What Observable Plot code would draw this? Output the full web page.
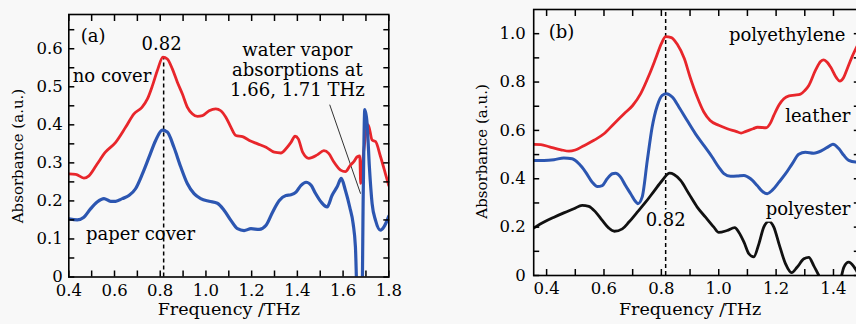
<!DOCTYPE html>
<html><head><meta charset="utf-8">
<script src="https://cdn.jsdelivr.net/npm/d3@7"></script>
<script src="https://cdn.jsdelivr.net/npm/@observablehq/plot@0.6"></script>
<style>
html,body{margin:0;padding:0;background:#f8f8f8;overflow:hidden;}
#wrap{position:relative;width:856px;height:324px;overflow:hidden;background:#f8f8f8;}
#pa,#pb{position:absolute;top:0;height:324px;}
#pa{left:0;width:430px}
#pb{left:440px;width:440px}
svg{max-width:none !important;}
</style></head><body><div id="wrap"><div id="pa"></div><div id="pb"></div></div>
<script>
// ---------- Panel (a) data: [frequency THz, absorbance] ----------
const aNoCover = [[0.4,0.271],[0.43,0.27],[0.466,0.26],[0.488,0.266],[0.524,0.297],[0.56,0.328],[0.605,0.354],[0.649,0.394],[0.685,0.429],[0.72,0.446],[0.744,0.468],[0.766,0.503],[0.787,0.542],[0.812,0.578],[0.831,0.573],[0.853,0.547],[0.875,0.512],[0.897,0.481],[0.919,0.446],[0.94,0.429],[0.963,0.422],[0.985,0.424],[1.014,0.437],[1.043,0.442],[1.065,0.437],[1.087,0.42],[1.109,0.394],[1.131,0.372],[1.16,0.369],[1.19,0.359],[1.226,0.35],[1.263,0.341],[1.299,0.328],[1.328,0.326],[1.35,0.337],[1.372,0.354],[1.39,0.37],[1.404,0.363],[1.423,0.328],[1.45,0.312],[1.487,0.321],[1.516,0.332],[1.537,0.325],[1.559,0.303],[1.589,0.281],[1.61,0.277],[1.632,0.294],[1.647,0.303],[1.662,0.316],[1.673,0.318],[1.677,0.246],[1.69,0.33],[1.71,0.40],[1.727,0.36],[1.742,0.356],[1.764,0.316],[1.785,0.272],[1.8,0.24]];
const aPaperCover = [[0.4,0.153],[0.437,0.15],[0.466,0.157],[0.495,0.179],[0.524,0.197],[0.554,0.206],[0.583,0.199],[0.605,0.199],[0.634,0.206],[0.663,0.214],[0.692,0.232],[0.722,0.271],[0.751,0.315],[0.78,0.359],[0.809,0.386],[0.831,0.381],[0.86,0.341],[0.89,0.289],[0.919,0.245],[0.948,0.219],[0.977,0.206],[1.014,0.199],[1.05,0.194],[1.08,0.175],[1.109,0.149],[1.138,0.127],[1.167,0.122],[1.197,0.127],[1.233,0.125],[1.263,0.136],[1.292,0.171],[1.321,0.201],[1.35,0.214],[1.372,0.216],[1.394,0.223],[1.416,0.241],[1.438,0.249],[1.46,0.241],[1.479,0.22],[1.504,0.197],[1.53,0.184],[1.552,0.215],[1.574,0.237],[1.592,0.259],[1.61,0.228],[1.629,0.184],[1.644,0.14],[1.654,0.079],[1.662,-0.05],[1.683,-0.05],[1.688,0.21],[1.695,0.44],[1.705,0.404],[1.715,0.29],[1.727,0.193],[1.742,0.149],[1.764,0.123],[1.778,0.131],[1.8,0.16]];
const aPeak = [0.815];
const aPeakValue = 0.578;
const aPointer = [[1.542,0.452],[1.676,0.22]];
const aXTicks = [0.4,0.6,0.8,1.0,1.2,1.4,1.6,1.8];
const aXMinor = [0.4,0.5,0.6,0.7,0.8,0.9,1.0,1.1,1.2,1.3,1.4,1.5,1.6,1.7,1.8];
const aYTicks = [0,0.1,0.2,0.3,0.4,0.5,0.6];
const aYMinor = [0,0.05,0.1,0.15,0.2,0.25,0.3,0.35,0.4,0.45,0.5,0.55,0.6,0.65];

// ---------- Panel (b) data ----------
const bPolyethylene = [[0.356,0.542],[0.38,0.541],[0.41,0.532],[0.45,0.52],[0.478,0.514],[0.50,0.519],[0.53,0.537],[0.565,0.559],[0.60,0.586],[0.635,0.628],[0.67,0.669],[0.70,0.703],[0.728,0.752],[0.757,0.828],[0.78,0.897],[0.80,0.959],[0.815,0.988],[0.835,0.984],[0.855,0.957],[0.88,0.897],[0.90,0.821],[0.925,0.738],[0.948,0.676],[0.97,0.641],[1.00,0.621],[1.03,0.607],[1.06,0.596],[1.078,0.589],[1.095,0.596],[1.12,0.607],[1.135,0.613],[1.165,0.611],[1.18,0.63],[1.192,0.662],[1.21,0.705],[1.227,0.731],[1.245,0.743],[1.265,0.746],[1.285,0.75],[1.30,0.765],[1.314,0.786],[1.337,0.848],[1.355,0.885],[1.366,0.892],[1.378,0.882],[1.39,0.862],[1.41,0.818],[1.422,0.804],[1.435,0.818],[1.448,0.855],[1.465,0.905],[1.48,0.943],[1.5,0.99]];
const bLeather = [[0.356,0.476],[0.391,0.476],[0.426,0.479],[0.46,0.486],[0.489,0.483],[0.513,0.462],[0.536,0.428],[0.559,0.386],[0.577,0.368],[0.594,0.372],[0.611,0.40],[0.629,0.421],[0.64,0.423],[0.658,0.407],[0.675,0.372],[0.693,0.338],[0.71,0.306],[0.718,0.297],[0.733,0.324],[0.751,0.476],[0.768,0.614],[0.786,0.703],[0.803,0.745],[0.818,0.752],[0.838,0.738],[0.861,0.697],[0.89,0.641],[0.919,0.586],[0.948,0.538],[0.977,0.49],[1.0,0.448],[1.018,0.421],[1.041,0.41],[1.064,0.411],[1.088,0.414],[1.111,0.40],[1.134,0.372],[1.151,0.349],[1.169,0.338],[1.186,0.352],[1.21,0.386],[1.233,0.421],[1.256,0.462],[1.279,0.501],[1.302,0.51],[1.331,0.506],[1.36,0.517],[1.384,0.534],[1.398,0.543],[1.419,0.524],[1.436,0.497],[1.453,0.476],[1.477,0.469],[1.5,0.468]];
const bPolyester = [[0.356,0.197],[0.391,0.221],[0.426,0.241],[0.46,0.259],[0.495,0.276],[0.524,0.29],[0.547,0.286],[0.571,0.262],[0.594,0.228],[0.617,0.196],[0.636,0.183],[0.664,0.193],[0.687,0.221],[0.716,0.262],[0.745,0.303],[0.774,0.348],[0.803,0.393],[0.829,0.423],[0.844,0.418],[0.867,0.393],[0.896,0.338],[0.925,0.283],[0.954,0.241],[0.983,0.20],[1.0,0.178],[1.029,0.186],[1.056,0.198],[1.07,0.179],[1.088,0.138],[1.105,0.09],[1.122,0.077],[1.14,0.131],[1.157,0.20],[1.175,0.224],[1.192,0.20],[1.21,0.131],[1.233,0.048],[1.254,0.012],[1.273,0.034],[1.297,0.069],[1.314,0.075],[1.331,0.041],[1.349,0.0],[1.365,-0.03],[1.42,-0.03],[1.436,0.034],[1.453,0.055],[1.471,0.037],[1.483,0.014],[1.5,-0.02]];
const bPeak = [0.815];
const bXTicks = [0.4,0.6,0.8,1.0,1.2,1.4];
const bXMinor = [0.4,0.5,0.6,0.7,0.8,0.9,1.0,1.1,1.2,1.3,1.4];
const bYTicks = [0,0.2,0.4,0.6,0.8,1.0];
const bYMinor = [0,0.1,0.2,0.3,0.4,0.5,0.6,0.7,0.8,0.9,1.0];

const RED = "#e8262b", BLUE = "#2c56b1", BLACK = "#111111", BG = "#f8f8f8";
const FONT = "DejaVu Serif";
const fmt = d => d === 0 ? "0" : d.toFixed(1);
const X = d => d[0], Y = d => d[1];
const TICK = 6; // tick length in px

// inward ticks on all four sides (axis ticks shifted inside the frame)
function frameTicks(xMinor, yMinor, xMajor, yMajor, yPad) {
  const s = {tickSize: TICK, tickFormat: () => "", label: null, stroke: "black", strokeWidth: 1.5};
  return [
    Plot.axisX(xMinor, {anchor: "bottom", dy: -TICK, ...s}),
    Plot.axisX(xMinor, {anchor: "top", dy: TICK, ...s}),
    Plot.axisY(yMinor, {anchor: "left", dx: TICK, ...s}),
    Plot.axisY(yMinor, {anchor: "right", dx: -TICK, ...s}),
    Plot.axisX(xMajor, {anchor: "bottom", tickSize: 0, tickPadding: 7, tickFormat: fmt, fontSize: 16.5, label: null}),
    Plot.axisY(yMajor, {anchor: "left", tickSize: 0, tickPadding: yPad, tickFormat: fmt, fontSize: 16.5, label: null}),
    Plot.frame({stroke: "black", strokeWidth: 1.6})
  ];
}
const T = (s, o) => Plot.text([s], {text: d => d, fill: "black", fontSize: 18, ...o});

// ---------- Panel (a) ----------
const aXD = [0.4, 1.8], aYD = [0, 0.69];
const plotA = Plot.plot({
  width: 430, height: 324,
  marginLeft: 68.3, marginRight: 41.7, marginTop: 14, marginBottom: 47.5,
  style: {fontFamily: FONT, fontSize: "17px", background: "transparent", overflow: "visible", color: "black"},
  x: {domain: aXD},
  y: {domain: aYD},
  marks: [
    Plot.ruleX(aPeak, {x: d => d, y1: 0, y2: aPeakValue, stroke: "black", strokeWidth: 1.5, strokeDasharray: "4,3"}),
    Plot.line(aPointer, {x: X, y: Y, stroke: "#333", strokeWidth: 1}),
    Plot.line(aNoCover, {x: X, y: Y, stroke: RED, strokeWidth: 2.8, curve: "monotone-x", clip: true}),
    Plot.line(aPaperCover, {x: X, y: Y, stroke: BLUE, strokeWidth: 3.2, curve: "monotone-x", clip: true}),
    ...frameTicks(aXMinor, aYMinor, aXTicks, aYTicks, 6),
    T("(a)", {x: 0.506, y: 0.633}),
    T("0.82", {x: 0.806, y: 0.611}),
    T("no cover", {x: 0.589, y: 0.529}),
    T("paper cover", {x: 0.714, y: 0.112}),
    T("water vapor\nabsorptions at\n1.66, 1.71 THz", {x: 1.40, y: 0.545, lineHeight: 1.1}),
    T("Absorbance (a.u.)", {x: aXD[0], y: 0.318, rotate: -90, dx: -51, fontSize: 15}),
    T("Frequency /THz", {x: 1.1, frameAnchor: "bottom", dy: 38, fontSize: 17.5})
  ]
});
document.getElementById("pa").appendChild(plotA);

// ---------- Panel (b) ----------
const bXD = [0.355, 1.49], bYD = [0, 1.1];
const halo = {stroke: BG, strokeWidth: 5};
const plotB = Plot.plot({
  width: 440, height: 324,
  marginLeft: 93.2, marginRight: 21.2, marginTop: 9, marginBottom: 49,
  style: {fontFamily: FONT, fontSize: "17px", background: "transparent", overflow: "visible", color: "black"},
  x: {domain: bXD},
  y: {domain: bYD},
  marks: [
    Plot.ruleX(bPeak, {x: d => d, y1: bYD[0], y2: bYD[1], stroke: "black", strokeWidth: 1.5, strokeDasharray: "4,3"}),
    Plot.line(bPolyethylene, {x: X, y: Y, stroke: RED, strokeWidth: 2.8, curve: "monotone-x", clip: true}),
    Plot.line(bLeather, {x: X, y: Y, stroke: BLUE, strokeWidth: 3, curve: "monotone-x", clip: true}),
    Plot.line(bPolyester, {x: X, y: Y, stroke: BLACK, strokeWidth: 2.8, curve: "monotone-x", clip: true}),
    ...frameTicks(bXMinor, bYMinor, bXTicks, bYTicks, 8),
    T("(b)", {x: 0.452, y: 1.005}),
    T("polyethylene", {x: 1.442, y: 0.993, textAnchor: "end", ...halo}),
    T("leather", {x: 1.459, y: 0.658, textAnchor: "end", ...halo}),
    T("polyester", {x: 1.459, y: 0.273, textAnchor: "end", ...halo}),
    T("0.82", {x: 0.815, y: 0.228, ...halo, strokeWidth: 6}),
    T("Absorbance (a.u.)", {x: bXD[0], y: 0.513, rotate: -90, dx: -51.5, fontSize: 15}),
    T("Frequency /THz", {x: 0.9, frameAnchor: "bottom", dy: 39.5, fontSize: 17.5})
  ]
});
document.getElementById("pb").appendChild(plotB);
</script></body></html>
